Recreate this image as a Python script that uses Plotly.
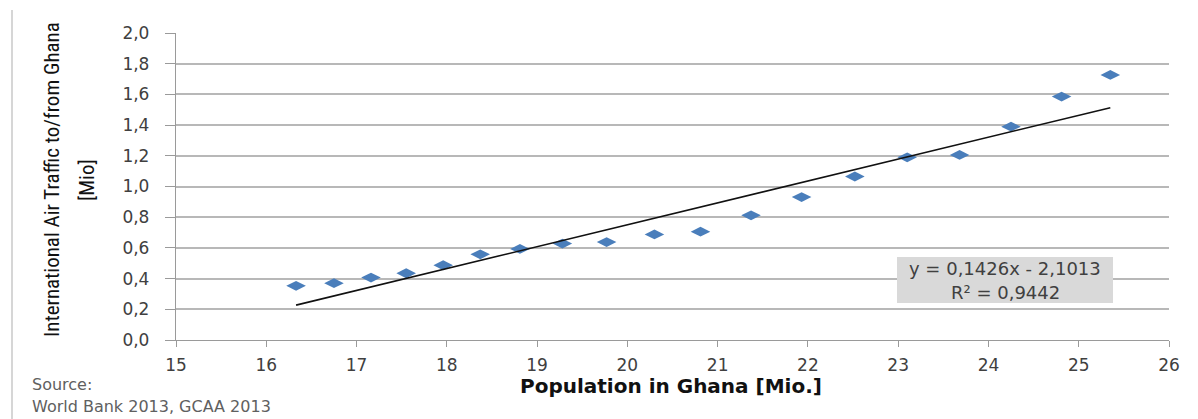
import plotly.graph_objects as go

# Population of Ghana (millions) vs. international air passengers to/from Ghana (millions)
population = [16.33, 16.75, 17.16, 17.55, 17.96, 18.37, 18.81, 19.28, 19.77, 20.30,
              20.81, 21.37, 21.93, 22.52, 23.10, 23.68, 24.25, 24.81, 25.35]
air_traffic = [0.353, 0.370, 0.407, 0.435, 0.487, 0.558, 0.593, 0.628, 0.638, 0.688,
               0.706, 0.812, 0.931, 1.065, 1.190, 1.206, 1.390, 1.586, 1.727]

# Linear trend line as reported on the chart
slope = 0.1426
intercept = -2.1013
r_squared = 0.9442

x_ticks = list(range(15, 27))
y_ticks = [i / 10 for i in range(0, 21, 2)]

W, H = 1198, 419
ML, MR, MT, MB = 176, 29, 33, 79
PW, PH = W - ML - MR, H - MT - MB


def px_to_paper_x(px):
    return (px - ML) / PW


def px_to_paper_y(py):
    return (H - MB - py) / PH


def dec(v, n):
    return f"{v:.{n}f}".replace(".", ",")


trend_x = [min(population), max(population)]
trend_y = [slope * v + intercept for v in trend_x]

fig = go.Figure()
fig.add_trace(go.Scatter(
    x=population, y=air_traffic, mode="markers",
    marker=dict(symbol="diamond-wide", size=14, color="#4a7ebb", line=dict(width=0)),
    showlegend=False,
))
fig.add_trace(go.Scatter(
    x=trend_x, y=trend_y, mode="lines",
    line=dict(color="#111111", width=1.6),
    showlegend=False,
))

tick_font = dict(family="DejaVu Sans, Verdana, sans-serif", size=17, color="#404040")

fig.update_layout(
    width=W, height=H,
    margin=dict(l=ML, r=MR, t=MT, b=MB),
    paper_bgcolor="white", plot_bgcolor="white",
    separators=",.",
    xaxis=dict(
        range=[15, 26], tickvals=x_ticks, ticktext=[str(v) for v in x_ticks],
        showgrid=False, zeroline=False,
        showline=True, linecolor="#9a9a9a", linewidth=1.3,
        ticks="outside", ticklen=6, tickcolor="#9a9a9a", tickwidth=1.3,
        tickfont=tick_font, ticklabelstandoff=3,
    ),
    yaxis=dict(
        range=[0, 2], tickvals=y_ticks, tickformat=".1f",
        showgrid=True, gridcolor="#b8b8b8", gridwidth=1.5, zeroline=False,
        showline=True, linecolor="#9a9a9a", linewidth=1.3,
        ticks="outside", ticklen=10, tickcolor="#9a9a9a", tickwidth=1.3,
        tickfont=tick_font, ticklabelstandoff=12,
    ),
    shapes=[
        # frame line on the left edge
        dict(type="line", xref="paper", yref="paper",
             x0=px_to_paper_x(12), x1=px_to_paper_x(12),
             y0=px_to_paper_y(10), y1=px_to_paper_y(H),
             line=dict(color="#c8c8c8", width=1.5)),
        # background of the regression label
        dict(type="rect", xref="paper", yref="paper",
             x0=px_to_paper_x(897), x1=px_to_paper_x(1113),
             y0=px_to_paper_y(303), y1=px_to_paper_y(257),
             fillcolor="#d9d9d9", line=dict(width=0), layer="above"),
    ],
)

eq_line1 = f"y = {dec(slope, 4)}x - {dec(abs(intercept), 4)}"
eq_line2 = f"R² = {dec(r_squared, 4)}"

annots = [
    dict(text=eq_line1, x=px_to_paper_x(1005), y=px_to_paper_y(268)),
    dict(text=eq_line2, x=px_to_paper_x(1005), y=px_to_paper_y(292)),
]
for a in annots:
    fig.add_annotation(xref="paper", yref="paper", showarrow=False,
                       xanchor="center", yanchor="middle",
                       font=dict(family="DejaVu Sans, Verdana, sans-serif", size=18, color="#404040"),
                       **a)

# axis titles
title_font = dict(family="Liberation Sans Narrow, Arial Narrow, Roboto Condensed, sans-serif",
                  size=21, color="#111111")
fig.add_annotation(xref="paper", yref="paper", showarrow=False, textangle=-90,
                   x=px_to_paper_x(52), y=px_to_paper_y(180),
                   xanchor="center", yanchor="middle",
                   text="International Air Traffic to/from Ghana", font=title_font)
fig.add_annotation(xref="paper", yref="paper", showarrow=False, textangle=-90,
                   x=px_to_paper_x(87), y=px_to_paper_y(180),
                   xanchor="center", yanchor="middle",
                   text="[Mio]", font=title_font)
fig.add_annotation(xref="paper", yref="paper", showarrow=False,
                   x=px_to_paper_x(671), y=px_to_paper_y(386),
                   xanchor="center", yanchor="middle",
                   text="<b>Population in Ghana [Mio.]</b>",
                   font=dict(family="DejaVu Sans, Verdana, sans-serif", size=20, color="#111111"))

# source note
src_font = dict(family="DejaVu Sans, Verdana, sans-serif", size=16, color="#606060")
fig.add_annotation(xref="paper", yref="paper", showarrow=False,
                   x=px_to_paper_x(30), y=px_to_paper_y(384),
                   xanchor="left", yanchor="middle", text="Source:", font=src_font)
fig.add_annotation(xref="paper", yref="paper", showarrow=False,
                   x=px_to_paper_x(30), y=px_to_paper_y(406),
                   xanchor="left", yanchor="middle", text="World Bank 2013, GCAA 2013", font=src_font)

fig.write_html("out.html")
